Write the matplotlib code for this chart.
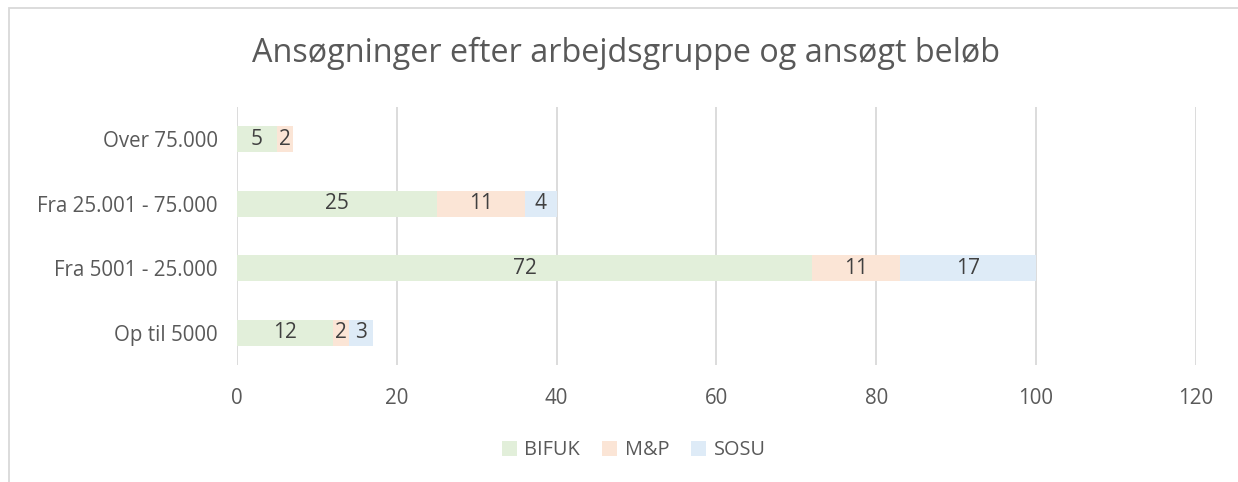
import matplotlib.pyplot as plt
from matplotlib.patches import Rectangle

plt.rcParams['font.family'] = ['Open Sans', 'DejaVu Sans']

categories = ['Op til 5000', 'Fra 5001 - 25.000', 'Fra 25.001 - 75.000', 'Over 75.000']
bifuk = [12, 72, 25, 5]
mp = [2, 11, 11, 2]
sosu = [3, 17, 4, 0]
series_names = ['BIFUK', 'M&P', 'SOSU']
colors = ['#E2EFDA', '#FBE5D6', '#DEEBF7']

fig = plt.figure(figsize=(12.38, 4.82), dpi=100)
ax = fig.add_axes([0.1914, 0.243, 0.7746, 0.535])

y = list(range(len(categories)))
left = [0] * len(categories)
for name, vals, col in zip(series_names, [bifuk, mp, sosu], colors):
    bars = ax.barh(y, vals, left=left, height=0.4, color=col, label=name, zorder=2)
    for b, v in zip(bars, vals):
        if v == 0:
            continue
        cx = b.get_x() + b.get_width() / 2
        ax.text(cx, b.get_y() + b.get_height() / 2, str(v), ha='center', va='center',
                fontsize=15, color='#404040', zorder=3)
    left = [l + v for l, v in zip(left, vals)]

ax.set_xlim(0, 120)
ax.set_ylim(-0.5, 3.5)
ax.set_xticks(range(0, 121, 20))
ax.set_yticks(y)
ax.set_yticklabels(categories)
ax.tick_params(axis='both', length=0, labelsize=14.8, labelcolor='#595959')
ax.tick_params(axis='x', pad=17)
ax.tick_params(axis='y', pad=14)
ax.grid(axis='x', color='#D9D9D9', linewidth=1.3, zorder=0)
for s in ax.spines.values():
    s.set_visible(False)

fig.text(0.506, 0.89, 'Ansøgninger efter arbejdsgruppe og ansøgt beløb', ha='center', va='center',
         fontsize=23.3, color='#595959')

fig.legend(loc='center', bbox_to_anchor=(0.512, 0.066), ncol=3, frameon=False, fontsize=14.3,
           labelcolor='#595959', handlelength=0.75, handleheight=0.75, handletextpad=0.4, columnspacing=1.1)

fig.patches.append(Rectangle((9 / 1238, -0.1), 1.2, 1 - 8 / 482 + 0.1, transform=fig.transFigure,
                             fill=False, edgecolor='#D9D9D9', linewidth=1.3))

plt.savefig('out.png', dpi=100)
